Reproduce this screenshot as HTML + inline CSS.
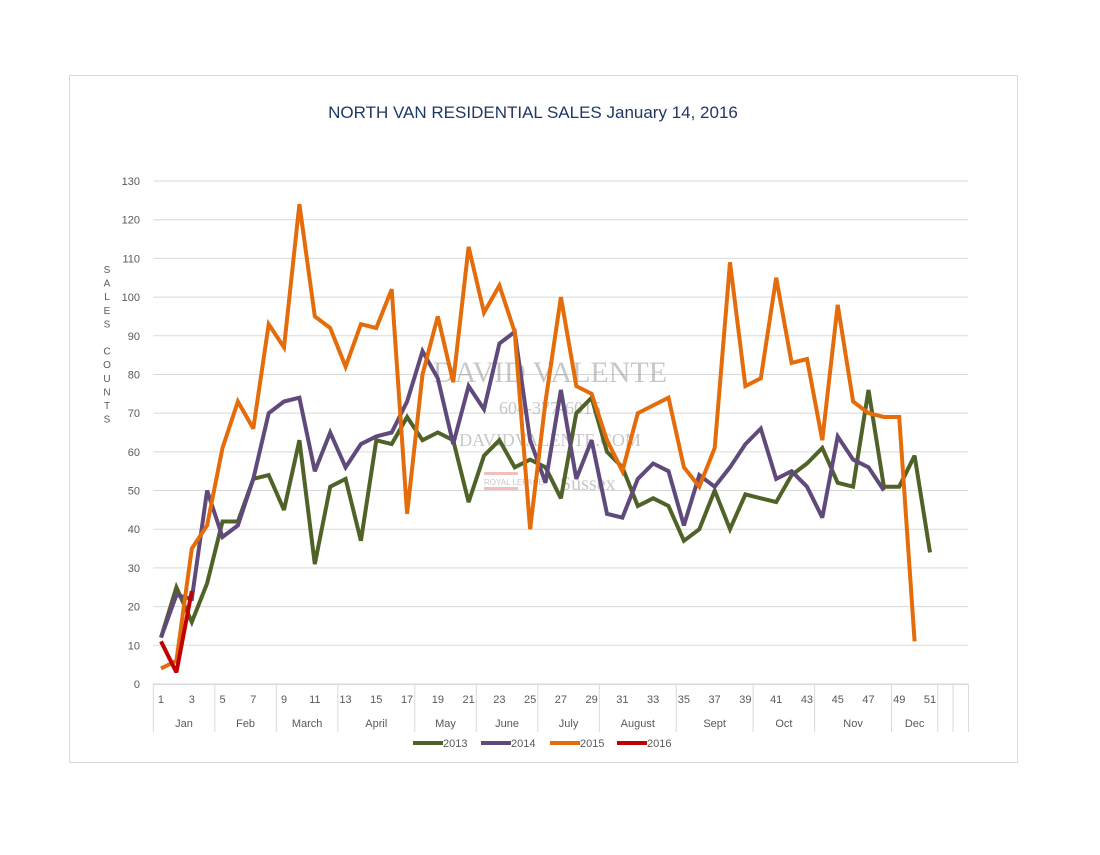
<!DOCTYPE html>
<html><head><meta charset="utf-8"><style>
body{margin:0;background:#fff;width:1100px;height:850px;overflow:hidden;font-family:"Liberation Sans",sans-serif}
</style></head><body>
<svg width="1100" height="850" xmlns="http://www.w3.org/2000/svg" font-family="Liberation Sans, sans-serif">
<rect x="69.5" y="75.5" width="948" height="687" fill="#fff" stroke="#d9d9d9"/>
<text x="533" y="118" text-anchor="middle" font-size="17" fill="#1f3864">NORTH VAN RESIDENTIAL SALES January 14, 2016</text>
<g id="grid"></g>
<g id="yticks"></g>
<g id="ytitle"></g>
<g id="xaxis"></g>
<g fill="#9a9a9a" opacity="0.55" font-family="Liberation Serif, serif">
<text x="550" y="382" text-anchor="middle" font-size="30">DAVID VALENTE</text>
<text x="550" y="414" text-anchor="middle" font-size="18">604-377-6015</text>
<text x="550" y="446" text-anchor="middle" font-size="18">DAVIDVALENTE.COM</text>
<rect x="484" y="472" width="34" height="3" fill="#e88"/><rect x="484" y="487" width="34" height="3" fill="#e88"/>
<text x="484" y="485" font-size="8" font-family="Liberation Sans, sans-serif">ROYAL LEPAGE</text>
<text x="560" y="490" font-size="20">Sussex</text>
</g>
<g id="series"></g>
<g id="legend"></g>
</svg>
<script>
const yTicks=[0,10,20,30,40,50,60,70,80,90,100,110,120,130];
const months=["Jan","Feb","March","April","May","June","July","August","Sept","Oct","Nov","Dec"];
const monthEnds=[4,8,12,17,21,25,29,34,39,43,48,51];
const s2013=[12,25,16,26,42,42,53,54,45,63,31,51,53,37,63,62,69,63,65,63,47,59,63,56,58,56,48,70,74,60,56,46,48,46,37,40,50,40,49,48,47,54,57,61,52,51,76,51,51,59,34];
const s2014=[12,23,22,50,38,41,53,70,73,74,55,65,56,62,64,65,73,86,79,62,77,71,88,91,63,52,76,53,63,44,43,53,57,55,41,54,51,56,62,66,53,55,51,43,64,58,56,50];
const s2015=[4,6,35,41,61,73,66,93,87,124,95,92,82,93,92,102,44,80,95,78,113,96,103,91,40,73,100,77,75,63,55,70,72,74,56,51,61,109,77,79,105,83,84,63,98,73,70,69,69,11];
const s2016=[11,3,24];
const seriesNames=["2013","2014","2015","2016"];
const seriesColors=["#4f6228","#604a7b","#e46c0a","#c00000"];
const NS="http://www.w3.org/2000/svg";
const X0=153.3,STEP=15.38,NCAT=53,Y0=684,YTOP=181,YMAX=130;
const xs=w=>X0+(w-0.5)*STEP;
const ys=v=>Y0-(v/YMAX)*(Y0-YTOP);
function mk(t,a,p){const e=document.createElementNS(NS,t);for(const k in a)e.setAttribute(k,a[k]);p.appendChild(e);return e;}
const grid=document.getElementById('grid'),yt=document.getElementById('yticks');
yTicks.forEach(v=>{
 const l=mk('line',{x1:X0,x2:X0+NCAT*STEP,y1:ys(v),y2:ys(v),stroke:'#d9d9d9','stroke-width':1},grid);
 
 
 const t=mk('text',{x:140,y:ys(v)+4,'text-anchor':'end','font-size':11,fill:'#595959'},yt);
 t.textContent=v;
 
 
});
const ytg=document.getElementById('ytitle');
"SALES COUNTS".split('').forEach((c,i)=>{
 if(c===' ')return;
 const t=mk('text',{x:107,y:273+i*13.6,'text-anchor':'middle','font-size':10,fill:'#595959'},ytg);
 t.textContent=c;
});
const xa=document.getElementById('xaxis');
mk('line',{x1:X0,x2:X0+NCAT*STEP,y1:Y0+0.5,y2:Y0+0.5,stroke:'#d9d9d9'},xa);
for(let w=1;w<=51;w+=2){
 const t=mk('text',{x:xs(w),y:703,'text-anchor':'middle','font-size':11,fill:'#595959'},xa);
 t.textContent=w;
 
 
}
let prev=0;
const bounds=[0].concat(monthEnds,[52,53]);
bounds.forEach(b=>{const x=X0+b*STEP;mk('line',{x1:x,x2:x,y1:Y0,y2:732,stroke:'#d9d9d9'},xa);});
months.forEach((m,i)=>{
 const a=i===0?0:monthEnds[i-1],b=monthEnds[i];
 const t=mk('text',{x:X0+(a+b)/2*STEP,y:727,'text-anchor':'middle','font-size':11,fill:'#595959'},xa);
 t.textContent=m;
 
 
});
const sg=document.getElementById('series');
[s2013,s2014,s2015,s2016].forEach((arr,i)=>{
 const d=arr.map((v,j)=>(j?'L':'M')+xs(j+1).toFixed(1)+','+ys(v).toFixed(1)).join(' ');
 const p=mk('path',{d:d,fill:'none',stroke:seriesColors[i],'stroke-width':4,'stroke-linejoin':'miter','stroke-miterlimit':3},sg);
 
 
});
const lg=document.getElementById('legend');
const lx=[413,481,550,617];
seriesNames.forEach((n,i)=>{
 mk('line',{x1:lx[i],x2:lx[i]+30,y1:743,y2:743,stroke:seriesColors[i],'stroke-width':4},lg);
 const t=mk('text',{x:lx[i]+30,y:747,'font-size':11,fill:'#595959'},lg);
 t.textContent=n;
 
 
});
</script>
</body></html>
